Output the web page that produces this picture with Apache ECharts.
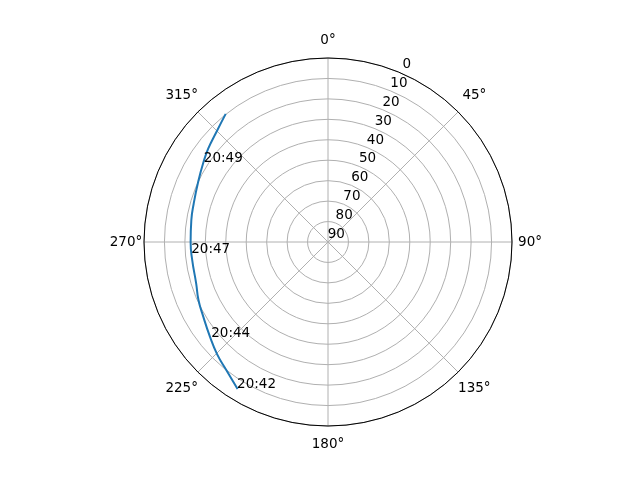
<!DOCTYPE html>
<html>
<head>
<meta charset="utf-8">
<script src="https://cdn.jsdelivr.net/npm/echarts@6/dist/echarts.min.js"></script>
<style>
    html, body { margin: 0; padding: 0; background: #fff; }
    #skyplot { width: 640px; height: 480px; }
</style>
</head>
<body>
<div id="skyplot"></div>
<script>
// pass track: azimuth (deg, clockwise from north) and elevation (deg)
var track_az = [211.6, 218.4, 224.6, 231.3, 239.1, 245.9, 252.5, 262.4, 270.0, 279.1, 285.8, 294.9, 302.8, 308.0, 314.7, 321.4];
var track_el = [5.6, 10.0, 12.8, 16.0, 18.9, 20.6, 22.4, 23.0, 22.8, 22.3, 21.7, 20.0, 17.6, 15.7, 13.3, 9.8];

// time stamps written next to the track
var stamp_text = ['20:42', '20:44', '20:47', '20:49'];
var stamp_az = [211.6, 230.5, 265.0, 302.5];
var stamp_el = [5.6, 16.3, 23.1, 18.3];

var compass_ticks = [0, 45, 90, 135, 180, 225, 270, 315];

var skyplot = echarts.init(document.getElementById('skyplot'));

var trackData = [];
for (var i = 0; i < track_az.length; i++) {
    trackData.push([track_el[i], track_az[i]]);
}
var stampData = [];
for (var j = 0; j < stamp_text.length; j++) {
    stampData.push({name: stamp_text[j], value: [stamp_el[j], stamp_az[j]]});
}

var font = 'DejaVu Sans';

var option = {
    animation: false,
    backgroundColor: '#ffffff',
    polar: {
        center: [328, 242],
        radius: 184
    },
    // the radial labels sit at 22.5 deg, so the axis starts there (22.5 .. 382.5)
    angleAxis: {
        type: 'value',
        min: 22.5,
        max: 382.5,
        interval: 22.5,
        startAngle: 67.5,
        clockwise: true,
        axisLine: { show: true, lineStyle: { color: '#000', width: 1 } },
        axisTick: { show: false },
        axisLabel: {
            margin: 6,
            color: '#000',
            fontFamily: font,
            fontSize: 13.5,
            formatter: function (v) {
                var d = v % 360;
                return compass_ticks.indexOf(d) >= 0 ? '{c|' + d + '°}' : '';
            },
            // square box so labels end up centred on one circle like matplotlib
            rich: {
                c: { width: 24, lineHeight: 24, align: 'center', color: '#000', fontFamily: font, fontSize: 13.5 }
            }
        },
        splitLine: {
            show: true,
            lineStyle: { color: ['rgba(0,0,0,0)', '#b0b0b0'], width: 1 }
        }
    },
    radiusAxis: {
        type: 'value',
        min: 0,
        max: 90,
        interval: 10,
        inverse: true,
        axisLine: { show: false },
        axisTick: { show: false },
        axisLabel: {
            color: '#000',
            fontFamily: font,
            fontSize: 13.5,
            margin: -9,
            align: 'center',
            verticalAlign: 'bottom',
            lineHeight: 14,
            padding: [0, 0, 4, 0],
            showMinLabel: true,
            showMaxLabel: true,
            hideOverlap: false
        },
        splitLine: {
            show: true,
            lineStyle: { color: '#b0b0b0', width: 1 }
        }
    },
    series: [{
        type: 'line',
        coordinateSystem: 'polar',
        data: trackData,
        smooth: 0.5,
        showSymbol: false,
        lineStyle: { color: '#1f77b4', width: 2 },
        z: 3
    }, {
        type: 'scatter',
        coordinateSystem: 'polar',
        data: stampData,
        symbolSize: 1,
        itemStyle: { color: 'rgba(0,0,0,0)', opacity: 1 },
        label: {
            show: true,
            formatter: '{b}',
            position: [0, 0],
            align: 'left',
            verticalAlign: 'bottom',
            offset: [0, 3],
            color: '#000',
            fontFamily: font,
            fontSize: 13.5
        },
        z: 4
    }]
};
skyplot.setOption(option);
</script>
</body>
</html>
